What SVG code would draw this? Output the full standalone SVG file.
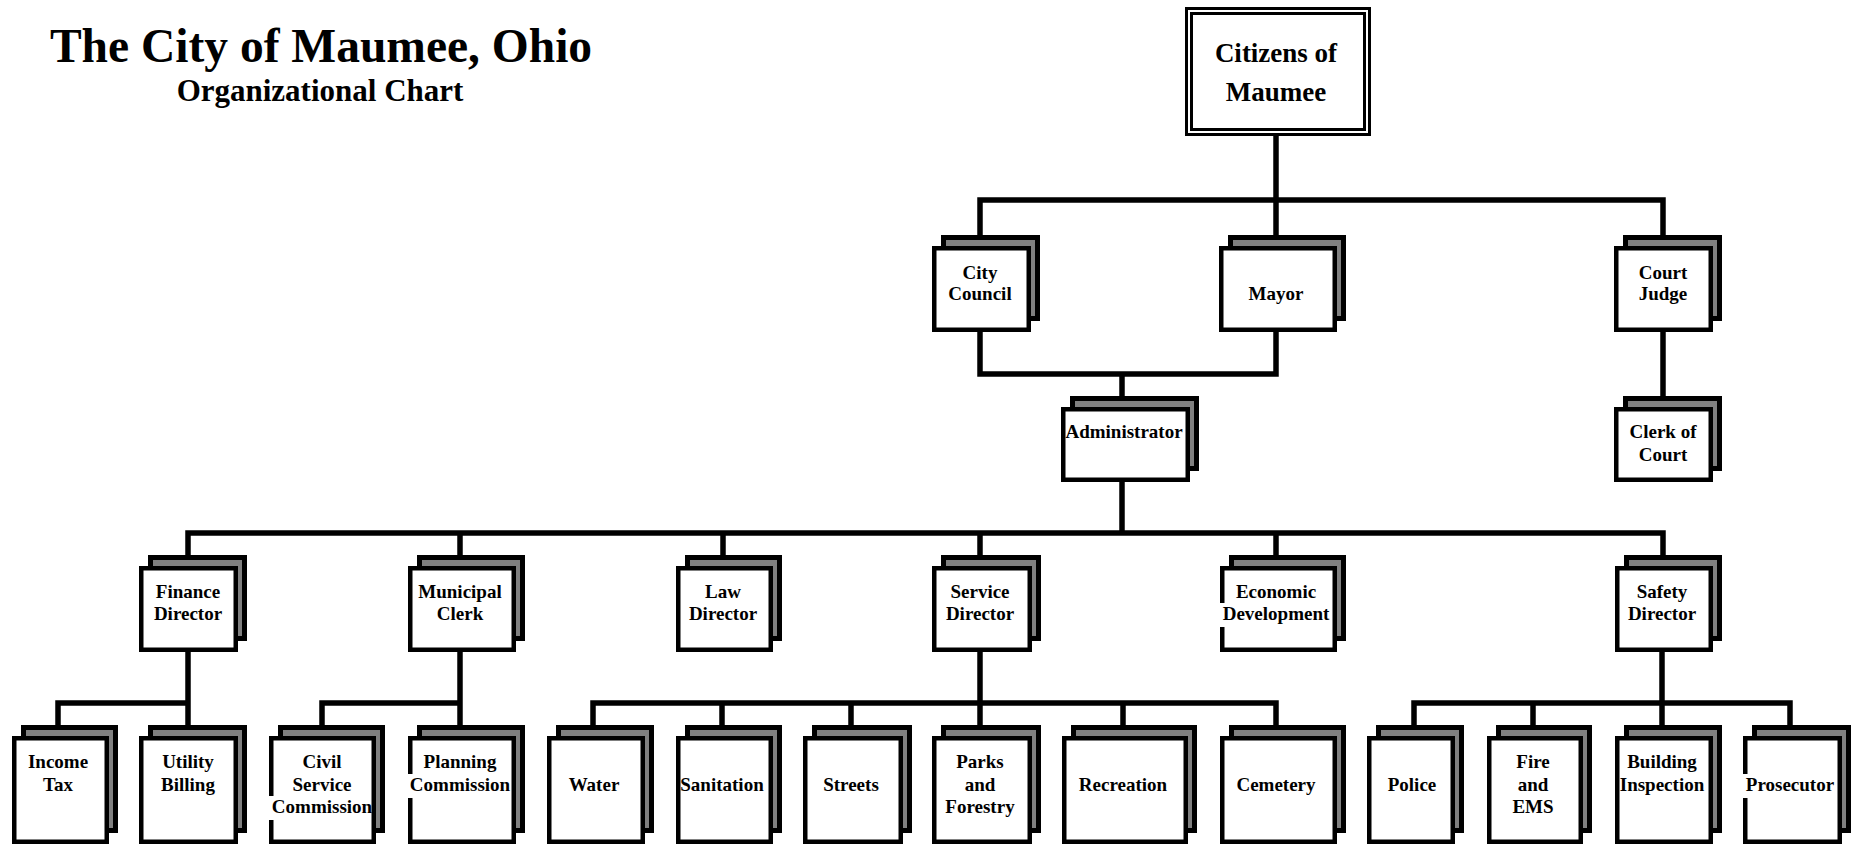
<svg xmlns="http://www.w3.org/2000/svg" width="1853" height="844" viewBox="0 0 1853 844">
<style>
.bg{fill:#fff}
.back{fill:#808080;stroke:#000;stroke-width:5}
.front{fill:#fff;stroke:#000;stroke-width:4.5}
.gap{fill:#fff}
.lbl{font-family:"Liberation Serif","Times New Roman",serif;font-weight:bold;font-size:19px;text-anchor:middle;fill:#000}
.big{font-family:"Liberation Serif","Times New Roman",serif;font-weight:bold;font-size:27px;text-anchor:middle;fill:#000}
.title{font-family:"Liberation Serif","Times New Roman",serif;font-weight:bold;text-anchor:middle;fill:#000}
.conn{fill:none;stroke:#000;stroke-width:5.5;stroke-linejoin:miter;stroke-linecap:butt}
</style>
<rect class="bg" x="0" y="0" width="1853" height="844"/>
<g id="title">
<text class="title" x="321" y="62" font-size="47.5">The City of Maumee, Ohio</text>
<text class="title" x="320" y="101" font-size="31">Organizational Chart</text>
</g>
<g id="connectors">
<path class="conn" d="M1276 135V237"/>
<path class="conn" d="M980 237V200H1663V237"/>
<path class="conn" d="M980 332V374H1276V332"/>
<path class="conn" d="M1122 374V397"/>
<path class="conn" d="M1663 332V397"/>
<path class="conn" d="M1122 481V533"/>
<path class="conn" d="M188 556V533H1663V556"/>
<path class="conn" d="M460 533V556M723 533V556M980 533V556M1276 533V556"/>
<path class="conn" d="M188 652V726"/>
<path class="conn" d="M58 726V703H188"/>
<path class="conn" d="M460 652V726"/>
<path class="conn" d="M322 726V703H460"/>
<path class="conn" d="M980 652V726"/>
<path class="conn" d="M593 726V703H1276V726M722 703V726M851 703V726M1123 703V726"/>
<path class="conn" d="M1662 652V726"/>
<path class="conn" d="M1414 726V703H1790V726M1533 703V726"/>
</g>
<g id="citizens">
<rect x="1186.5" y="8.5" width="183" height="126" fill="#fff" stroke="#000" stroke-width="3"/>
<rect x="1191.5" y="13.5" width="173" height="116" fill="none" stroke="#000" stroke-width="3"/>
<text class="big" x="1276" y="62">Citizens of</text>
<text class="big" x="1276" y="101">Maumee</text>
</g>
<g id="city-council">
<rect class="back" x="943.5" y="237.5" width="94" height="81"/>
<rect class="front" x="934.25" y="248.25" width="94.5" height="81.5"/>
<text class="lbl" x="980" y="279">City</text>
<text class="lbl" x="980" y="300">Council</text>
</g>
<g id="mayor">
<rect class="back" x="1230.5" y="237.5" width="113" height="81"/>
<rect class="front" x="1221.25" y="248.25" width="113.5" height="81.5"/>
<text class="lbl" x="1276" y="300">Mayor</text>
</g>
<g id="court-judge">
<rect class="back" x="1625.5" y="237.5" width="94" height="81"/>
<rect class="front" x="1616.25" y="248.25" width="94.5" height="81.5"/>
<text class="lbl" x="1663" y="279">Court</text>
<text class="lbl" x="1663" y="300">Judge</text>
</g>
<g id="administrator">
<rect class="back" x="1072.5" y="398.5" width="124" height="70"/>
<rect class="front" x="1063.25" y="409.25" width="124.5" height="70.5"/>
<text class="lbl" x="1124" y="438">Administrator</text>
</g>
<g id="clerk-of-court">
<rect class="back" x="1625.5" y="398.5" width="94" height="70"/>
<rect class="front" x="1616.25" y="409.25" width="94.5" height="70.5"/>
<text class="lbl" x="1663" y="438">Clerk of</text>
<text class="lbl" x="1663" y="461">Court</text>
</g>
<g id="finance-director">
<rect class="back" x="150.5" y="557.5" width="94" height="81"/>
<rect class="front" x="141.25" y="568.25" width="94.5" height="81.5"/>
<text class="lbl" x="188" y="598">Finance</text>
<text class="lbl" x="188" y="620">Director</text>
</g>
<g id="municipal-clerk">
<rect class="back" x="419.5" y="557.5" width="103" height="81"/>
<rect class="front" x="410.25" y="568.25" width="103.5" height="81.5"/>
<text class="lbl" x="460" y="598">Municipal</text>
<text class="lbl" x="460" y="620">Clerk</text>
</g>
<g id="law-director">
<rect class="back" x="687.5" y="557.5" width="92" height="81"/>
<rect class="front" x="678.25" y="568.25" width="92.5" height="81.5"/>
<text class="lbl" x="723" y="598">Law</text>
<text class="lbl" x="723" y="620">Director</text>
</g>
<g id="service-director">
<rect class="back" x="943.5" y="557.5" width="95" height="81"/>
<rect class="front" x="934.25" y="568.25" width="95.5" height="81.5"/>
<text class="lbl" x="980" y="598">Service</text>
<text class="lbl" x="980" y="620">Director</text>
</g>
<g id="economic-development">
<rect class="back" x="1231.5" y="557.5" width="112" height="81"/>
<rect class="front" x="1222.25" y="568.25" width="112.5" height="81.5"/>
<rect class="gap" x="1219.5" y="603" width="6" height="24"/>
<text class="lbl" x="1276" y="598">Economic</text>
<text class="lbl" x="1276" y="620">Development</text>
</g>
<g id="safety-director">
<rect class="back" x="1626.5" y="557.5" width="93" height="81"/>
<rect class="front" x="1617.25" y="568.25" width="93.5" height="81.5"/>
<text class="lbl" x="1662" y="598">Safety</text>
<text class="lbl" x="1662" y="620">Director</text>
</g>
<g id="income-tax">
<rect class="back" x="23.5" y="727.5" width="92" height="103"/>
<rect class="front" x="14.25" y="738.25" width="92.5" height="103.5"/>
<text class="lbl" x="58" y="768">Income</text>
<text class="lbl" x="58" y="791">Tax</text>
</g>
<g id="utility-billing">
<rect class="back" x="150.5" y="727.5" width="94" height="103"/>
<rect class="front" x="141.25" y="738.25" width="94.5" height="103.5"/>
<text class="lbl" x="188" y="768">Utility</text>
<text class="lbl" x="188" y="791">Billing</text>
</g>
<g id="civil-service-commission">
<rect class="back" x="280.5" y="727.5" width="102" height="103"/>
<rect class="front" x="271.25" y="738.25" width="102.5" height="103.5"/>
<rect class="gap" x="268.5" y="796" width="6" height="24"/>
<text class="lbl" x="322" y="768">Civil</text>
<text class="lbl" x="322" y="791">Service</text>
<text class="lbl" x="322" y="813">Commission</text>
</g>
<g id="planning-commission">
<rect class="back" x="419.5" y="727.5" width="103" height="103"/>
<rect class="front" x="410.25" y="738.25" width="103.5" height="103.5"/>
<rect class="gap" x="407.5" y="774" width="6" height="24"/>
<text class="lbl" x="460" y="768">Planning</text>
<text class="lbl" x="460" y="791">Commission</text>
</g>
<g id="water">
<rect class="back" x="558.5" y="727.5" width="93" height="103"/>
<rect class="front" x="549.25" y="738.25" width="93.5" height="103.5"/>
<text class="lbl" x="594" y="791">Water</text>
</g>
<g id="sanitation">
<rect class="back" x="687.5" y="727.5" width="92" height="103"/>
<rect class="front" x="678.25" y="738.25" width="92.5" height="103.5"/>
<text class="lbl" x="722" y="791">Sanitation</text>
</g>
<g id="streets">
<rect class="back" x="814.5" y="727.5" width="95" height="103"/>
<rect class="front" x="805.25" y="738.25" width="95.5" height="103.5"/>
<text class="lbl" x="851" y="791">Streets</text>
</g>
<g id="parks-and-forestry">
<rect class="back" x="943.5" y="727.5" width="95" height="103"/>
<rect class="front" x="934.25" y="738.25" width="95.5" height="103.5"/>
<text class="lbl" x="980" y="768">Parks</text>
<text class="lbl" x="980" y="791">and</text>
<text class="lbl" x="980" y="813">Forestry</text>
</g>
<g id="recreation">
<rect class="back" x="1073.5" y="727.5" width="121" height="103"/>
<rect class="front" x="1064.25" y="738.25" width="121.5" height="103.5"/>
<text class="lbl" x="1123" y="791">Recreation</text>
</g>
<g id="cemetery">
<rect class="back" x="1231.5" y="727.5" width="112" height="103"/>
<rect class="front" x="1222.25" y="738.25" width="112.5" height="103.5"/>
<text class="lbl" x="1276" y="791">Cemetery</text>
</g>
<g id="police">
<rect class="back" x="1378.5" y="727.5" width="83" height="103"/>
<rect class="front" x="1369.25" y="738.25" width="83.5" height="103.5"/>
<text class="lbl" x="1412" y="791">Police</text>
</g>
<g id="fire-and-ems">
<rect class="back" x="1498.5" y="727.5" width="91" height="103"/>
<rect class="front" x="1489.25" y="738.25" width="91.5" height="103.5"/>
<text class="lbl" x="1533" y="768">Fire</text>
<text class="lbl" x="1533" y="791">and</text>
<text class="lbl" x="1533" y="813">EMS</text>
</g>
<g id="building-inspection">
<rect class="back" x="1626.5" y="727.5" width="93" height="103"/>
<rect class="front" x="1617.25" y="738.25" width="93.5" height="103.5"/>
<text class="lbl" x="1662" y="768">Building</text>
<text class="lbl" x="1662" y="791">Inspection</text>
</g>
<g id="prosecutor">
<rect class="back" x="1754.5" y="727.5" width="94" height="103"/>
<rect class="front" x="1745.25" y="738.25" width="94.5" height="103.5"/>
<rect class="gap" x="1742.5" y="774" width="6" height="24"/>
<text class="lbl" x="1790" y="791">Prosecutor</text>
</g>
</svg>
